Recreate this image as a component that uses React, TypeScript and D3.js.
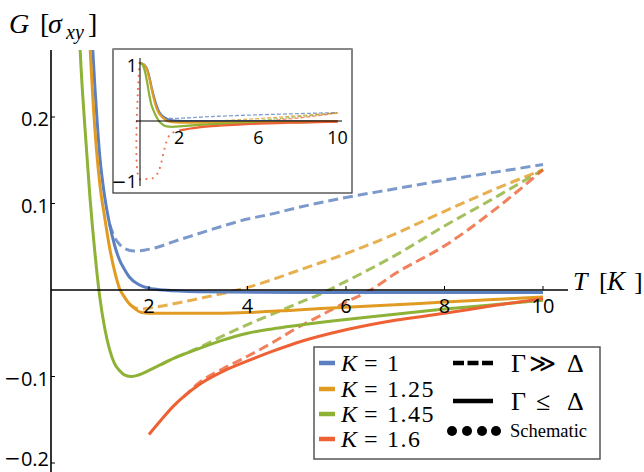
import React, { useEffect } from 'react';
import * as d3 from 'd3';

type Pt = [number, number];

// K values and their colours
const kLabels = ['1', '1.25', '1.45', '1.6'];
const colors = ['#5b7fbf', '#e29b22', '#8db236', '#ee6134'];

// Γ ≤ Δ (solid) curves, [T, G]
const k1Solid: Pt[] = [[0, 1.0], [0.2, 0.98], [0.4, 0.88], [0.5, 0.76], [0.6, 0.6], [0.7, 0.46], [0.8, 0.335], [0.9, 0.236], [1.0, 0.155], [1.1, 0.108], [1.2, 0.076], [1.3, 0.052], [1.4, 0.035], [1.5, 0.024], [1.6, 0.015], [1.8, 0.006], [2.0, 0.002], [2.3, 0], [3, -0.002], [5, -0.003], [10, -0.003]];
const k125Solid: Pt[] = [[0, 1.0], [0.2, 0.98], [0.4, 0.86], [0.5, 0.73], [0.6, 0.57], [0.7, 0.42], [0.8, 0.285], [0.9, 0.187], [1.0, 0.123], [1.1, 0.084], [1.2, 0.049], [1.3, 0.022], [1.4, 0.002], [1.5, -0.008], [1.6, -0.016], [1.7, -0.021], [1.85, -0.026], [2.1, -0.027], [3, -0.027], [4, -0.026], [5, -0.023], [6, -0.02], [7, -0.017], [8, -0.014], [9, -0.011], [10, -0.008]];
const k145Solid: Pt[] = [[0, 1.0], [0.1, 0.99], [0.2, 0.94], [0.3, 0.82], [0.4, 0.64], [0.5, 0.44], [0.6, 0.28], [0.7, 0.187], [0.8, 0.108], [0.9, 0.044], [1.0, -0.008], [1.1, -0.044], [1.2, -0.069], [1.3, -0.085], [1.4, -0.093], [1.5, -0.098], [1.65, -0.1], [1.8, -0.098], [2.0, -0.093], [2.25, -0.086], [2.5, -0.079], [3, -0.068], [3.5, -0.058], [4, -0.05], [4.5, -0.045], [5, -0.041], [6, -0.034], [7, -0.028], [8, -0.022], [9, -0.017], [10, -0.012]];
const k16Solid: Pt[] = [[2.0, -0.167], [2.25, -0.15], [2.5, -0.134], [3, -0.11], [3.5, -0.094], [4, -0.082], [4.5, -0.071], [5, -0.061], [6, -0.046], [7, -0.035], [8, -0.027], [9, -0.018], [10, -0.01]];

// Γ >> Δ (dashed) curves
const k1Dashed: Pt[] = [[1.2, 0.076], [1.3, 0.061], [1.4, 0.053], [1.5, 0.048], [1.7, 0.045], [1.9, 0.046], [2.2, 0.05], [2.5, 0.056], [3, 0.065], [3.5, 0.074], [4, 0.082], [4.5, 0.088], [5, 0.095], [6, 0.107], [7, 0.117], [8, 0.127], [9, 0.136], [10, 0.145]];
const k125Dashed: Pt[] = [[1.6, -0.016], [1.7, -0.02], [1.85, -0.022], [2, -0.021], [2.5, -0.016], [3, -0.01], [3.5, -0.004], [3.8, 0], [4, 0.003], [4.5, 0.012], [5, 0.022], [6, 0.042], [7, 0.065], [8, 0.091], [9, 0.116], [10, 0.139]];
const k145Dashed: Pt[] = [[2.25, -0.086], [2.5, -0.079], [3, -0.067], [3.5, -0.053], [4, -0.04], [4.5, -0.028], [5, -0.016], [5.5, -0.004], [6, 0.01], [7, 0.04], [8, 0.074], [9, 0.106], [10, 0.139]];
const k16Dashed: Pt[] = [[2.7, -0.124], [3, -0.108], [3.5, -0.091], [3.85, -0.081], [4.5, -0.061], [5, -0.044], [5.5, -0.029], [6, -0.014], [6.5, 0], [7, 0.019], [8, 0.051], [9, 0.092], [10, 0.139]];

// schematic (dotted) K = 1.6 branch, inset only
const k16Schematic: Pt[] = [[0, 1.0], [0, -1.0], [0.3, -1.0], [0.6, -0.995], [0.75, -0.97], [0.9, -0.91], [1.0, -0.84], [1.1, -0.72], [1.2, -0.57], [1.3, -0.43], [1.4, -0.32], [1.55, -0.23], [1.75, -0.19], [2.0, -0.167]];

const solids = [k1Solid, k125Solid, k145Solid, k16Solid];
const dashes = [k1Dashed, k125Dashed, k145Dashed, k16Dashed];

const xTicks = [2, 4, 6, 8, 10];
const yTicks = [-0.2, -0.1, 0.1, 0.2];
const insetXTicks = [2, 6, 10];
const insetYTicks = [-1, 1];

const serif = '"Liberation Serif", "DejaVu Serif", serif';
const sans = '"Open Sans", "Noto Sans", sans-serif';

// number label with a wide minus sign
const Num = ({ s }: { s: string }) =>
  s.startsWith('-')
    ? <><tspan fontFamily='"DejaVu Sans"'>−</tspan>{s.slice(1)}</>
    : <>{s}</>;

export default function App() {
  useEffect(() => {
    document.body.style.margin = '0';
  }, []);

  const x = d3.scaleLinear().domain([0, 10]).range([50.5, 543]);
  const y = d3.scaleLinear().domain([-0.2, 0.2]).range([463, 117]);
  const line = d3.line<Pt>().x(d => x(d[0])).y(d => y(d[1])).curve(d3.curveMonotoneX);

  const ix = d3.scaleLinear().domain([0, 10]).range([139.5, 337.5]);
  const iy = d3.scaleLinear().domain([-1, 1]).range([179, 63]);
  const iline = d3.line<Pt>().x(d => ix(d[0])).y(d => iy(d[1])).curve(d3.curveMonotoneX);
  const idots = d3.line<Pt>().x(d => ix(d[0])).y(d => iy(d[1])).curve(d3.curveCatmullRom.alpha(0.5));
  const fmt = (v: number) => d3.format('.1f')(v).replace('−', '-');

  const rowY = [363, 389, 414, 439];

  return (
    <svg width={644} height={472} style={{ display: 'block', background: 'white' }}>
      <defs>
        <clipPath id="mainClip"><rect x={51} y={50} width={560} height={422} /></clipPath>
        <clipPath id="insetClip"><rect x={114} y={50} width={237} height={142} /></clipPath>
      </defs>

      {/* main curves */}
      <g clipPath="url(#mainClip)" fill="none">
        {dashes.map((d, i) => (
          <path key={'d' + i} d={line(d) || ''} stroke={colors[i]} strokeOpacity={0.8} strokeWidth={3} strokeDasharray="10,5" />
        ))}
        {solids.map((d, i) => (
          <path key={'s' + i} d={line(d) || ''} stroke={colors[i]} strokeWidth={3} />
        ))}
      </g>

      {/* main axes */}
      <line x1={51} x2={51} y1={50} y2={472} stroke="black" strokeWidth={1.6} />
      <line x1={51} x2={568} y1={290} y2={290} stroke="black" strokeWidth={1.6} />
      {xTicks.map(t => (
        <g key={'xt' + t}>
          <line x1={x(t)} x2={x(t)} y1={286} y2={290} stroke="black" strokeWidth={1} />
          <text x={x(t)} y={305} textAnchor="middle" dominantBaseline="central" fontFamily={sans} fontSize={20}>{t}</text>
        </g>
      ))}
      {yTicks.map(t => (
        <g key={'yt' + t}>
          <line x1={51} x2={55} y1={y(t)} y2={y(t)} stroke="black" strokeWidth={1} />
          <text x={49} y={Math.min(y(t) + 1.5, 458)} textAnchor="end" dominantBaseline="central" fontFamily={sans} fontSize={20}>
            <Num s={fmt(t)} />
          </text>
        </g>
      ))}

      {/* axis titles */}
      <g fontFamily={serif} fontSize={28}>
        <text x={9} y={33} fontStyle="italic">G</text>
        <text x={40} y={33}>[</text>
        <text x={48} y={33} fontStyle="italic">σ</text>
        <text x={66} y={39} fontStyle="italic" fontSize={20}>xy</text>
        <text x={88} y={33}>]</text>
      </g>
      <g fontFamily={serif} fontSize={26}>
        <text x={573} y={290} fontStyle="italic">T</text>
        <text x={599} y={290}>[</text>
        <text x={607} y={290} fontStyle="italic" fontSize={27}>K</text>
        <text x={634} y={290}>]</text>
      </g>

      {/* inset */}
      <rect x={113} y={49} width={239} height={144} fill="white" stroke="#333" strokeWidth={1.2} />
      <line x1={113} x2={352} y1={49} y2={49} stroke="#888" strokeWidth={2} />
      <g clipPath="url(#insetClip)" fill="none">
        {dashes.map((d, i) => (
          <path key={'id' + i} d={iline(d) || ''} stroke={colors[i]} strokeOpacity={0.75} strokeWidth={1.3} strokeDasharray="4,2" />
        ))}
        {solids.map((d, i) => (
          <path key={'is' + i} d={iline(d) || ''} stroke={colors[i]} strokeWidth={2.2} />
        ))}
        <path d={idots(k16Schematic) || ''} stroke="#ef7250" strokeWidth={2.2} strokeLinecap="round" strokeDasharray="0,6.5" />
      </g>
      <line x1={140} x2={140} y1={58} y2={186} stroke="black" strokeWidth={1} />
      <line x1={136} x2={342} y1={121} y2={121} stroke="black" strokeWidth={1} />
      {insetXTicks.map(t => (
        <text key={'ixt' + t} x={ix(t)} y={137} textAnchor="middle" dominantBaseline="central" fontFamily={sans} fontSize={18}>{t}</text>
      ))}
      {insetYTicks.map(t => (
        <text key={'iyt' + t} x={137} y={iy(t) + 2} textAnchor="end" dominantBaseline="central" fontFamily={sans} fontSize={18}>
          <Num s={d3.format('d')(t).replace('−', '-')} />
        </text>
      ))}

      {/* legend */}
      <rect x={314} y={347} width={286} height={112} fill="white" stroke="#555" strokeWidth={1.5} />
      {kLabels.map((k, i) => (
        <g key={'lg' + k} fontFamily={serif} fontSize={24}>
          <line x1={319} x2={335} y1={rowY[i]} y2={rowY[i]} stroke={colors[i]} strokeWidth={4.5} />
          <text x={341} y={rowY[i] + 8} fontStyle="italic">K</text>
          <text x={364} y={rowY[i] + 8}>=</text>
          <text x={387} y={rowY[i] + 8} letterSpacing={1.5}>{k}</text>
        </g>
      ))}
      <line x1={453} x2={493} y1={363} y2={363} stroke="black" strokeWidth={4.5} strokeDasharray="11,3.5" />
      <line x1={453} x2={493} y1={401} y2={401} stroke="black" strokeWidth={4.5} />
      {[452, 467, 482, 496].map(cx => (
        <circle key={'dot' + cx} cx={cx} cy={431} r={5} fill="black" />
      ))}
      <g fontFamily={serif} fontSize={26}>
        <text x={511} y={372}>Γ</text>
        <text x={529} y={372}>≫</text>
        <text x={567} y={372}>Δ</text>
        <text x={511} y={410}>Γ</text>
        <text x={536} y={410}>≤</text>
        <text x={567} y={410}>Δ</text>
      </g>
      <text x={510} y={437} fontFamily={serif} fontSize={18.5}>Schematic</text>
    </svg>
  );
}
